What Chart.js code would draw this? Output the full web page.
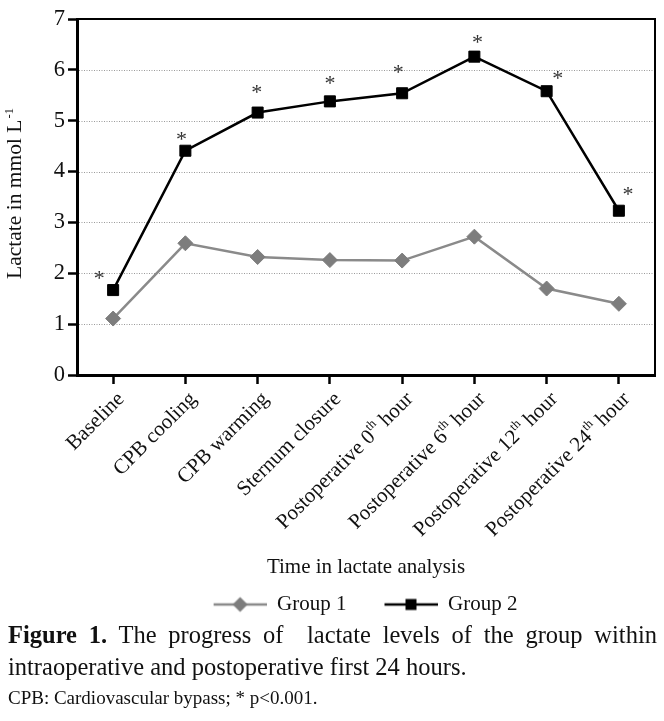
<!DOCTYPE html>
<html>
<head>
<meta charset="utf-8">
<script src="https://cdn.jsdelivr.net/npm/chart.js@4.4.1/dist/chart.umd.min.js"></script>
<style>
  html, body { margin: 0; padding: 0; background: #fff; }
  body { width: 664px; height: 721px; overflow: hidden; position: relative;
         font-family: "Liberation Serif", "Times New Roman", serif; color: #111; }
  #wrap { position: absolute; left: 0; top: 0; width: 664px; height: 625px; }
  #cap { position: absolute; left: 8px; top: 619px; width: 649px; }
  .l1 { font-size: 24.5px; line-height: 32px; text-align: justify; text-align-last: justify; white-space: normal; }
  .l2 { font-size: 24.5px; line-height: 32px; }
  .l3 { font-size: 19px; line-height: 22px; margin-top: 4px; }
</style>
</head>
<body>
<div id="wrap"><canvas id="c" width="664" height="625"></canvas></div>
<div id="cap">
  <div class="l1"><b>Figure 1.</b> The progress of&nbsp; lactate levels of the group within</div>
  <div class="l2">intraoperative and postoperative first 24 hours.</div>
  <div class="l3">CPB: Cardiovascular bypass; * p&lt;0.001.</div>
</div>
<script>
// ---------- data ----------
const categories = ['Baseline', 'CPB cooling', 'CPB warming', 'Sternum closure',
  'Postoperative 0th hour', 'Postoperative 6th hour', 'Postoperative 12th hour', 'Postoperative 24th hour'];
const group1 = [1.11, 2.59, 2.32, 2.26, 2.25, 2.72, 1.70, 1.40];
const group2 = [1.67, 4.41, 5.16, 5.38, 5.54, 6.26, 5.58, 3.23];
const yTickValues = [0, 1, 2, 3, 4, 5, 6, 7];
const seriesNames = ['Group 1', 'Group 2'];
const significanceMark = '*';
const yTitleMain = 'Lactate in mmol L';
const yTitleSup = '-1';
const xTitle = 'Time in lactate analysis';

// ---------- styles ----------
const FONT = '"Liberation Serif", "Times New Roman", serif';
const TEXT = '#111';
const G1_COLOR = '#8a8a8a';
const G1_POINT = '#7d7d7d';
const G2_COLOR = '#000';
const STAR_OFFSETS = [[-14,-15],[-4,-15],[-1,-24],[0,-21],[-4,-24],[3,-18],[11,-16],[9,-20]];

function legendImage(color, pointColor, shape) {
  const cv = document.createElement('canvas');
  cv.width = 81; cv.height = 18;
  const g = cv.getContext('2d');
  g.strokeStyle = color; g.lineWidth = 2.5;
  g.beginPath(); g.moveTo(28, 9); g.lineTo(81, 9); g.stroke();
  g.fillStyle = pointColor;
  const cx = 54.5, cy = 9;
  if (shape === 'diamond') {
    g.beginPath(); g.moveTo(cx, cy - 7.5); g.lineTo(cx + 7.5, cy); g.lineTo(cx, cy + 7.5); g.lineTo(cx - 7.5, cy); g.closePath(); g.fill();
  } else {
    g.fillRect(cx - 5.5, cy - 5.5, 11, 11);
  }
  return cv;
}
const legendImgs = [legendImage(G1_COLOR, G1_POINT, 'diamond'), legendImage(G2_COLOR, G2_COLOR, 'square')];

function drawRich(ctx, parts, size) {
  let total = 0;
  const widths = parts.map(p => {
    ctx.font = (p.sup ? size * 0.6 : size) + 'px ' + FONT;
    const w = ctx.measureText(p.t).width; total += w; return w;
  });
  let x = -total;
  parts.forEach((p, i) => {
    ctx.font = (p.sup ? size * 0.6 : size) + 'px ' + FONT;
    ctx.fillText(p.t, x, p.sup ? -size * 0.33 : 0);
    x += widths[i];
  });
}
function splitSup(label) {
  const m = label.match(/^(.*\d)(th)(.*)$/);
  if (!m) return [{t: label}];
  return [{t: m[1]}, {t: m[2], sup: true}, {t: m[3]}];
}

const decor = {
  id: 'decor',
  beforeDatasetsDraw(chart) {
    const {ctx, chartArea: a, scales: {y}} = chart;
    ctx.save();
    ctx.strokeStyle = '#9a9a9a'; ctx.lineWidth = 1; ctx.setLineDash([1, 1.5]);
    yTickValues.forEach(v => {
      if (v <= y.min || v >= y.max) return;
      const py = Math.round(y.getPixelForValue(v)) + 0.5;
      ctx.beginPath(); ctx.moveTo(a.left + 2, py); ctx.lineTo(a.right, py); ctx.stroke();
    });
    ctx.restore();
  },
  afterDraw(chart) {
    const {ctx, chartArea: a, scales: {x}} = chart;
    ctx.save();
    ctx.strokeStyle = '#000'; ctx.lineWidth = 2;
    ctx.beginPath(); ctx.moveTo(a.left, a.top); ctx.lineTo(a.right, a.top); ctx.lineTo(a.right, a.bottom); ctx.stroke();
    const meta = chart.getDatasetMeta(1);
    ctx.fillStyle = '#333';
    ctx.font = '22px ' + FONT;
    ctx.textAlign = 'center'; ctx.textBaseline = 'alphabetic';
    const m = ctx.measureText(significanceMark);
    const mid = (m.actualBoundingBoxAscent - m.actualBoundingBoxDescent) / 2;
    meta.data.forEach((pt, i) => {
      const o = STAR_OFFSETS[i];
      ctx.fillText(significanceMark, pt.x + o[0], pt.y + o[1] + mid);
    });
    ctx.fillStyle = TEXT;
    ctx.textAlign = 'left'; ctx.textBaseline = 'middle';
    categories.forEach((lab, i) => {
      const px = x.getPixelForValue(i);
      ctx.save();
      ctx.translate(px + 8, a.bottom + 21);
      ctx.rotate(-Math.PI / 4);
      drawRich(ctx, splitSup(lab), 21);
      ctx.restore();
    });
    ctx.save();
    ctx.translate(21, (a.top + a.bottom) / 2 - 3);
    ctx.rotate(-Math.PI / 2);
    ctx.textBaseline = 'alphabetic';
    ctx.font = '21.5px ' + FONT;
    const w1 = ctx.measureText(yTitleMain).width;
    ctx.font = '12.5px ' + FONT;
    const w2 = ctx.measureText(yTitleSup).width;
    const start = -(w1 + w2) / 2;
    ctx.font = '21.5px ' + FONT;
    ctx.fillText(yTitleMain, start, 0);
    ctx.font = '12.5px ' + FONT;
    ctx.fillText(yTitleSup, start + w1 + 1, -8);
    ctx.restore();
    ctx.restore();
  }
};

new Chart(document.getElementById('c'), {
  type: 'line',
  data: {
    labels: categories,
    datasets: [
      { label: seriesNames[0], data: group1, borderColor: G1_COLOR, borderWidth: 2.5,
        pointStyle: 'rectRot', pointRadius: 7.5, pointBackgroundColor: G1_POINT, pointBorderColor: G1_POINT,
        pointBorderWidth: 1, tension: 0 },
      { label: seriesNames[1], data: group2, borderColor: G2_COLOR, borderWidth: 2.5,
        pointStyle: 'rect', pointRadius: 7.8, pointBackgroundColor: G2_COLOR, pointBorderColor: G2_COLOR,
        pointBorderWidth: 1, tension: 0 }
    ]
  },
  options: {
    responsive: false,
    animation: false,
    devicePixelRatio: 1,
    layout: { padding: { left: 48, right: 9, top: 19, bottom: 0 } },
    plugins: {
      tooltip: { enabled: false },
      legend: {
        position: 'bottom',
        labels: {
          usePointStyle: true, pointStyleWidth: 81, padding: 10,
          color: TEXT, font: { family: FONT, size: 21 },
          generateLabels(chart) {
            const items = Chart.defaults.plugins.legend.labels.generateLabels(chart);
            items.forEach((it, i) => { it.pointStyle = legendImgs[i]; });
            return items;
          }
        }
      }
    },
    scales: {
      x: {
        type: 'category', offset: true,
        grid: { display: true, drawOnChartArea: false, drawTicks: true, tickLength: 9, tickWidth: 2.5, tickColor: '#000', offset: false },
        border: { display: true, color: '#000', width: 3 },
        ticks: { display: false },
        title: { display: true, text: xTitle, color: TEXT, font: { family: FONT, size: 21, lineHeight: 1.2 }, padding: { top: 0, bottom: 4 } },
        afterFit(s) { s.height = 209; }
      },
      y: {
        min: 0, max: 7,
        afterBuildTicks(s) { s.ticks = yTickValues.map(v => ({ value: v })); },
        ticks: { color: TEXT, font: { family: FONT, size: 22.5 }, padding: 3 },
        grid: { display: true, drawOnChartArea: false, drawTicks: true, tickLength: 9, tickWidth: 2.5, tickColor: '#000' },
        border: { display: true, color: '#000', width: 3 },
        afterFit(s) { s.width = 29; }
      }
    }
  },
  plugins: [decor]
});
</script>
</body>
</html>
